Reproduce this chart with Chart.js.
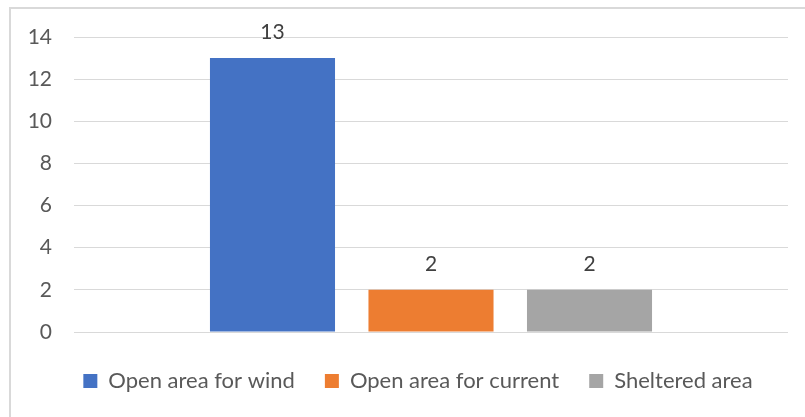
<!DOCTYPE html>
<html>
<head>
<meta charset="utf-8">
<script src="https://cdn.jsdelivr.net/npm/chart.js@4/dist/chart.umd.min.js"></script>
<style>
  html, body { margin: 0; padding: 0; background: #fff; overflow: hidden; }
  #frame {
    position: absolute; left: 9px; top: 7px; width: 820px; height: 430px;
    border-left: 2px solid #d9d9d9; border-top: 2px solid #d9d9d9;
  }
  #wrap { position: absolute; left: 0; top: 0; width: 805px; height: 417px; }
</style>
</head>
<body>
<div id="frame"></div>
<div id="wrap"><canvas id="c" width="805" height="417"></canvas></div>
<script>
const categories = [""];
const seriesNames = ["Open area for wind", "Open area for current", "Sheltered area"];
const seriesValues = [[13], [2], [2]];
const seriesColors = ["#4472c4", "#ed7d31", "#a5a5a5"];
const yTicks = [0, 2, 4, 6, 8, 10, 12, 14];

const FONT = "Lato, 'Open Sans', sans-serif";
const FONT_SIZE = 21;

// Value labels above each bar
const valueLabels = {
  id: "valueLabels",
  afterDatasetsDraw(chart) {
    const ctx = chart.ctx;
    ctx.save();
    ctx.fillStyle = "#404040";
    ctx.font = FONT_SIZE + "px " + FONT;
    ctx.textAlign = "center";
    ctx.textBaseline = "alphabetic";
    chart.data.datasets.forEach((ds, i) => {
      chart.getDatasetMeta(i).data.forEach((bar, j) => {
        ctx.fillText(String(ds.data[j]), bar.x, bar.y - 19);
      });
    });
    ctx.restore();
  }
};

// Nudge the legend row to the right so it sits under the whole frame
const legendShift = {
  id: "legendShift",
  afterLayout(chart) {
    if (chart.legend) {
      chart.legend.left += 24;
      chart.legend.right += 24;
    }
  }
};

new Chart(document.getElementById("c"), {
  type: "bar",
  data: {
    labels: categories,
    datasets: seriesNames.map((name, i) => ({
      label: name,
      data: seriesValues[i],
      backgroundColor: seriesColors[i],
      borderWidth: 0,
      categoryPercentage: 0.666,
      barPercentage: 0.789
    }))
  },
  options: {
    responsive: false,
    animation: false,
    layout: { padding: { left: 0, right: 17, top: 37, bottom: 15 } },
    plugins: {
      tooltip: { enabled: false },
      legend: {
        position: "bottom",
        labels: {
          boxWidth: 14,
          boxHeight: 14,
          padding: 30,
          color: "#595959",
          font: { family: FONT, size: 22 }
        }
      }
    },
    scales: {
      x: {
        grid: { display: false },
        border: { display: false },
        ticks: { display: false }
      },
      y: {
        min: 0,
        max: 14,
        afterBuildTicks(axis) { axis.ticks = yTicks.map(v => ({ value: v })); },
        afterFit(axis) { axis.width = 74; },
        grid: { color: "#d9d9d9", lineWidth: 1, drawTicks: false },
        border: { display: false },
        ticks: { color: "#595959", padding: 22, font: { family: FONT, size: FONT_SIZE } }
      }
    }
  },
  plugins: [valueLabels, legendShift]
});
</script>
</body>
</html>
